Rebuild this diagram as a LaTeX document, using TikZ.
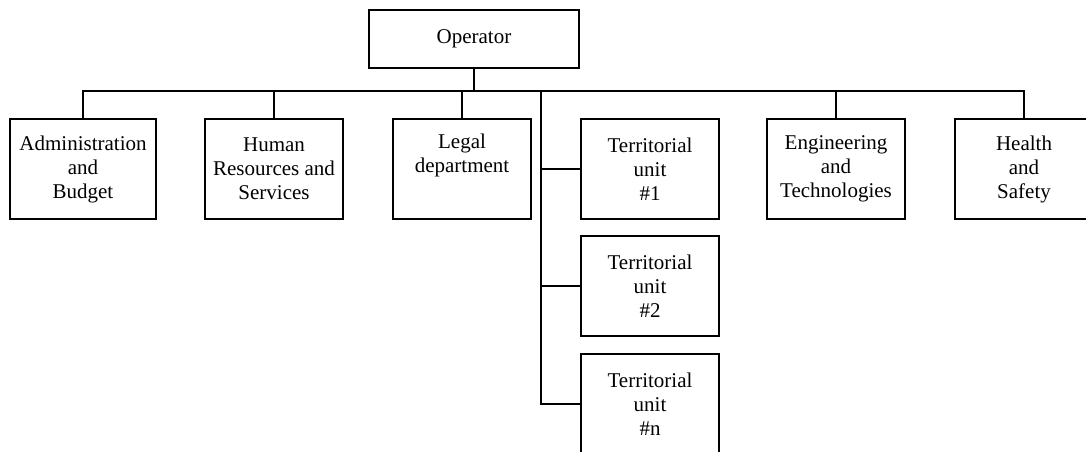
\documentclass[tikz,border=0pt]{standalone}
\usepackage{fontspec}
\setmainfont{Liberation Serif}
\begin{document}
\begin{tikzpicture}[x=1pt,y=-1pt,
  box/.style={draw, line width=1.7pt, inner sep=0pt, align=center,
    minimum width=138pt, minimum height=100pt,
    font=\fontsize{21}{24}\selectfont},
  link/.style={line width=1.7pt}]
\useasboundingbox (0,0) rectangle (1086,452);
\clip (0,0) rectangle (1086,452);
\node[box, minimum width=210pt, minimum height=58pt] (op) at (474,39) {Operator};
\node[box, minimum width=146pt] (adm) at (83,169) {Administration\\and\\Budget};
\node[box] (hr) at (274,169) {Human\\Resources and\\Services};
\node[box] (leg) at (462,169) {Legal\\department\\\strut};
\node[box] (t1) at (650,169) {Territorial\\unit\\\#1};
\node[box] (t2) at (650,286) {Territorial\\unit\\\#2};
\node[box] (tn) at (650,404) {Territorial\\unit\\\#n};
\node[box] (eng) at (836,169) {Engineering\\and\\Technologies};
\node[box] (hs) at (1024,169) {Health\\and\\Safety};
\coordinate (bus) at (474,91);
\coordinate (trunk) at (541,91);
\draw[link] (op.south) -- (bus);
\draw[link] (adm.north) |- (bus) -| (hs.north);
\draw[link] (hr.north) -- (hr.north |- bus);
\draw[link] (leg.north) -- (leg.north |- bus);
\draw[link] (eng.north) -- (eng.north |- bus);
\draw[link] (trunk) |- (tn.west);
\draw[link] (trunk |- t1.west) -- (t1.west);
\draw[link] (trunk |- t2.west) -- (t2.west);
\end{tikzpicture}
\end{document}
